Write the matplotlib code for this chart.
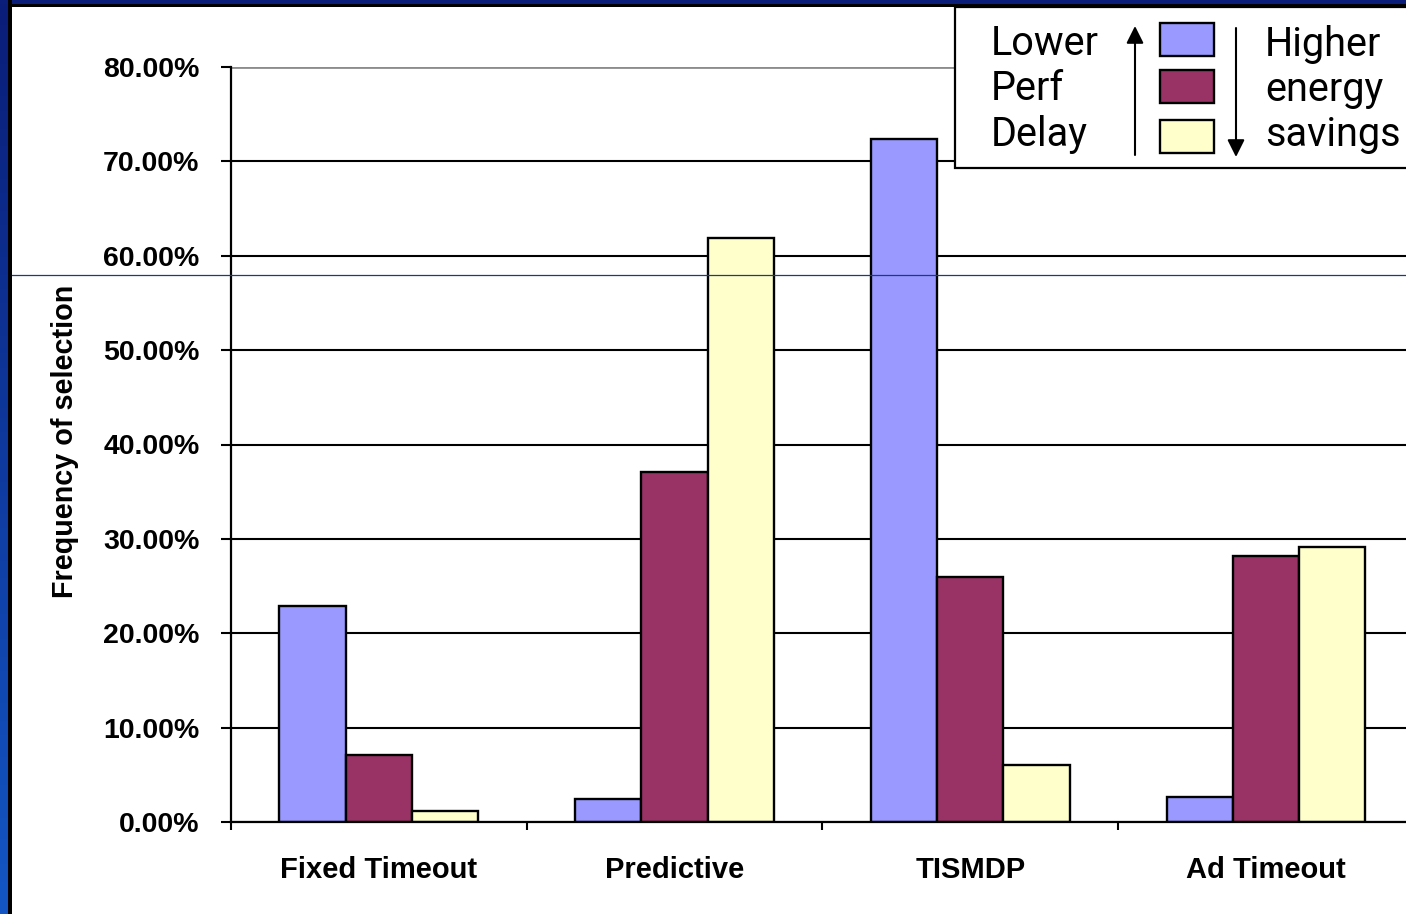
import numpy as np
import matplotlib
matplotlib.use("Agg")
import matplotlib.pyplot as plt
from matplotlib.patches import Rectangle, FancyArrowPatch
from matplotlib.lines import Line2D
from matplotlib.colors import LinearSegmentedColormap

# ---- data -------------------------------------------------------------
categories = ["Fixed Timeout", "Predictive", "TISMDP", "Ad Timeout"]
lower_perf_delay = [22.9, 2.45, 72.4, 2.65]      # blue series
middle_series = [7.1, 37.1, 25.95, 28.2]          # maroon series
higher_savings = [1.15, 61.9, 6.05, 29.1]         # yellow series
y_ticks = [0, 10, 20, 30, 40, 50, 60, 70, 80]
y_label = "Frequency of selection"
legend_left = ["Lower", "Perf", "Delay"]
legend_right = ["Higher", "energy", "savings"]

series = [lower_perf_delay, middle_series, higher_savings]
colors = ["#9999FF", "#993366", "#FFFFCC"]

W, H = 1406, 914
fig = plt.figure(figsize=(W / 100, H / 100), dpi=100)
fig.patch.set_facecolor("white")


def fx(px):
    return px / W


def fy(py):
    return 1 - py / H


bold = dict(family=["Liberation Sans", "DejaVu Sans"], weight="bold")

# ---- plot area ---------------------------------------------------------
slot = 295.7
ax = fig.add_axes([fx(231), fy(822), 4 * slot / W, (822 - 67) / H])
ax.set_xlim(-0.5, 3.5)
ax.set_ylim(0, 80)

x = np.arange(len(categories))
bw = 0.224
for i, (vals, c) in enumerate(zip(series, colors)):
    ax.bar(x + (i - 1) * bw, vals, width=bw, color=c, edgecolor="black",
           linewidth=1.7, zorder=3)

ax.set_yticks(y_ticks)
ax.set_yticklabels([f"{v:.2f}%" for v in y_ticks], fontsize=20.5, **bold)
ax.tick_params(axis="y", direction="out", length=7.2, width=1.5, pad=15.5,
               color="black")
ax.yaxis.grid(True, color="black", linewidth=1.5, zorder=1)
ax.set_axisbelow(True)
top_grid = ax.get_ygridlines()[-1]
top_grid.set_color("#8c8c8c")
top_grid.set_linewidth(2.0)

# category boundaries carry the tick marks, centres carry the names
ax.set_xticks(np.arange(-0.5, 4.0, 1.0))
ax.set_xticklabels([])
ax.tick_params(axis="x", which="major", direction="out", length=6,
               width=1.5, color="black")
ax.set_xticks(x, minor=True)
ax.set_xticklabels(categories, minor=True, fontsize=21, **bold)
ax.tick_params(axis="x", which="minor", length=0, pad=24.5)

for s in ("top", "right"):
    ax.spines[s].set_visible(False)
for s in ("left", "bottom"):
    ax.spines[s].set_linewidth(1.6)
    ax.spines[s].set_color("black")
    ax.spines[s].set_zorder(4)

ax.set_ylabel(y_label, fontsize=20.7, rotation=90, va="center", ha="center",
              **bold)
ax.yaxis.set_label_coords((65 - 231) / (4 * slot), (822 - 441) / (822 - 67))

# ---- slide frame ---------------------------------------------------------
band = fig.add_axes([0, 0, fx(8), 1], zorder=10)
grad = LinearSegmentedColormap.from_list("band", ["#0a1d78", "#1356c4"])
band.imshow(np.linspace(0, 1, 256).reshape(-1, 1), aspect="auto", cmap=grad,
            extent=(0, 1, 1, 0))
band.set_axis_off()
fig.add_artist(Rectangle((0, fy(4)), 1, 4 / H, transform=fig.transFigure,
                         facecolor="#0b1f7a", edgecolor="none", zorder=11))
fig.add_artist(Rectangle((fx(8), 0), 4 / W, 1, transform=fig.transFigure,
                         facecolor="black", edgecolor="none", zorder=11))
fig.add_artist(Rectangle((fx(8), fy(7)), 1, 3 / H, transform=fig.transFigure,
                         facecolor="black", edgecolor="none", zorder=11))
fig.add_artist(Line2D([fx(12), 1], [fy(275), fy(275)],
                      transform=fig.transFigure, color="#1c3a7c",
                      linewidth=0.9, zorder=12))

# ---- legend ------------------------------------------------------------
fig.add_artist(Rectangle((fx(955), fy(168)), (1430 - 955) / W, (168 - 7) / H,
                         transform=fig.transFigure, facecolor="white",
                         edgecolor="black", linewidth=1.6, zorder=8))
leg_font = dict(family=["DejaVu Sans Condensed", "Roboto", "DejaVu Sans"],
                fontsize=28.5, color="black", va="baseline", zorder=9)
for txt, base in zip(legend_left, [55, 100, 146]):
    fig.text(fx(991), fy(base), txt, ha="left", **leg_font)
for txt, base in zip(legend_right, [56, 101, 146]):
    fig.text(fx(1265), fy(base), txt, ha="left", **leg_font)

for c, top in zip(colors, [23, 70, 120]):
    fig.add_artist(Rectangle((fx(1160), fy(top + 33)), 54 / W, 33 / H,
                             transform=fig.transFigure, facecolor=c,
                             edgecolor="black", linewidth=1.7, zorder=9))

arrow_kw = dict(transform=fig.transFigure, arrowstyle="-|>",
                mutation_scale=26, color="black", linewidth=1.5,
                shrinkA=0, shrinkB=0, zorder=9)
fig.add_artist(FancyArrowPatch((fx(1135), fy(155)), (fx(1135), fy(26)),
                               **arrow_kw))
fig.add_artist(FancyArrowPatch((fx(1236), fy(28)), (fx(1236), fy(157)),
                               **arrow_kw))

fig.savefig("out.png", dpi=100, facecolor=fig.get_facecolor())
